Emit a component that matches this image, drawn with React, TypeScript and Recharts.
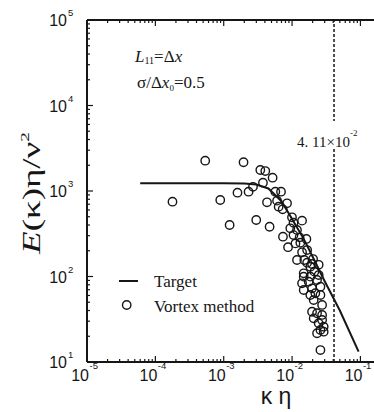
import React from "react";
import { ComposedChart, Line, Scatter, XAxis, YAxis, ReferenceLine } from "recharts";

// Tamaño del lienzo y caja del gráfico (coordenadas de página: el contenedor va fijo en 0,0)
const W = 390;
const H = 412;
const PL = 87;
const PT = 20;
const PB = 362;
const PR = 381;

const INK = "#161616";
const SERIF = "'Liberation Serif', 'Times New Roman', serif";
const SANS = "'Liberation Sans', Arial, sans-serif";

const X_DECADES = [-5, -4, -3, -2, -1];
const Y_DECADES = [1, 2, 3, 4, 5];
const K_CUTOFF = 0.0411;

// Espectro objetivo (meseta y caída ~ -5/3)
const targetK = [6e-5, 1e-3, 2e-3, 3e-3, 4.5e-3, 7e-3, 1e-2, 1.5e-2, 2e-2, 3e-2, 5e-2, 9.4e-2];
const targetE = [1230, 1230, 1225, 1190, 1070, 760, 470, 270, 170, 88, 40, 13.2];

// Método de vórtices
const vortexK = [
  1.78e-4, 5.36e-4, 8.9e-4, 1.22e-3, 1.59e-3, 1.95e-3, 2.31e-3, 2.68e-3, 2.99e-3, 3.43e-3,
  4.06e-3, 5.19e-3, 3.75e-3, 5.69e-3, 6.89e-3, 4.3e-3, 6.03e-3, 6.36e-3, 7.28e-3, 8.44e-3,
  4.69e-3, 9.97e-3, 1.05e-2, 1.4e-2, 9.42e-3, 1.18e-2, 7.36e-3, 1.05e-2, 1.29e-2, 1.62e-2,
  1.12e-2, 1.32e-2, 8.73e-3, 1.66e-2, 1.4e-2, 1.18e-2, 1.51e-2, 2.03e-2, 1.85e-2, 2.45e-2,
  2.12e-2, 1.48e-2, 1.85e-2, 1.66e-2, 1.96e-2, 1.48e-2, 2.45e-2, 1.4e-2, 1.75e-2, 2.32e-2,
  1.48e-2, 1.96e-2, 2.6e-2, 1.85e-2, 2.19e-2, 2.6e-2, 2.07e-2, 2.75e-2, 1.96e-2, 2.32e-2,
  2.75e-2, 2.07e-2, 2.75e-2, 2.45e-2, 2.9e-2, 2.6e-2, 2.9e-2, 2.32e-2, 2.6e-2,
];
const vortexE = [
  750, 2260, 785, 400, 955, 2170, 982, 1120, 458, 1760,
  1710, 1430, 1250, 982, 982, 738, 771, 655, 611, 718,
  382, 492, 425, 450, 366, 350, 292, 305, 287, 275,
  244, 248, 220, 204, 192, 156, 156, 160, 130, 137,
  114, 99.6, 99.6, 145, 140, 109, 104, 83.2, 86.9, 91,
  69.5, 72.8, 76, 60.8, 63.7, 60.8, 53, 46.5, 38.7, 37.2,
  35.5, 32.4, 31, 28.4, 25.9, 23.7, 22.6, 21.7, 13.8,
];

const targetData = targetK.map((k, i) => ({ k, e: targetE[i] }));
const vortexData = vortexK.map((k, i) => ({ k, e: vortexE[i] }));

function logTicks(decades: number[]) {
  const out: number[] = [];
  decades.forEach((d, i) => {
    out.push(Math.pow(10, d));
    if (i < decades.length - 1) {
      for (let m = 2; m <= 9; m++) out.push(m * Math.pow(10, d));
    }
  });
  return out;
}
const xTicks = logTicks(X_DECADES);
const yTicks = logTicks(Y_DECADES);

function isMajor(v: number) {
  const p = Math.log10(v);
  return Math.abs(p - Math.round(p)) < 1e-6;
}

function XTick(props: any) {
  const { x, payload } = props;
  const v = payload.value;
  const major = isMajor(v);
  const len = major ? 6 : 3;
  return (
    <g>
      <line x1={x} x2={x} y1={PB} y2={PB - len} stroke={INK} strokeWidth={1.2} />
      <line x1={x} x2={x} y1={PT} y2={PT + len} stroke={INK} strokeWidth={1.2} />
      {major && (
        <g fontFamily={SANS} fill={INK}>
          <text x={x + 2} y={381} fontSize={16} textAnchor="end">10</text>
          <text x={x + 2.5} y={369} fontSize={9.5}>{Math.round(Math.log10(v))}</text>
        </g>
      )}
    </g>
  );
}

function YTick(props: any) {
  const { y, payload } = props;
  const v = payload.value;
  const major = isMajor(v);
  const len = major ? 6 : 3;
  return (
    <g>
      <line x1={PL} x2={PL + len} y1={y} y2={y} stroke={INK} strokeWidth={1.2} />
      {major && (
        <g fontFamily={SANS} fill={INK}>
          <text x={PL - 20} y={y + 6} fontSize={16} textAnchor="end">10</text>
          <text x={PL - 19} y={y - 4} fontSize={9.5}>{Math.round(Math.log10(v))}</text>
        </g>
      )}
    </g>
  );
}

function VortexDot(props: any) {
  const { cx, cy } = props;
  if (cx == null || cy == null) return null;
  return <circle cx={cx} cy={cy} r={4.2} fill="none" stroke={INK} strokeWidth={1.4} />;
}

export default function App() {
  return (
    <div
      style={{
        position: "fixed",
        top: 0,
        left: 0,
        width: 374,
        height: 412,
        overflow: "hidden",
        background: "#fff",
      }}
    >
      <ComposedChart
        width={W}
        height={H}
        margin={{ top: PT, right: W - PR, bottom: H - PB - 30, left: PL - 60 }}
      >
        <XAxis
          dataKey="k"
          type="number"
          scale="log"
          domain={[1e-5, 0.2]}
          allowDataOverflow
          ticks={xTicks}
          interval={0}
          height={30}
          tick={<XTick />}
          tickLine={false}
          axisLine={{ stroke: INK, strokeWidth: 2 }}
        />
        <YAxis
          dataKey="e"
          type="number"
          scale="log"
          domain={[10, 1e5]}
          allowDataOverflow
          ticks={yTicks}
          interval={0}
          width={60}
          tick={<YTick />}
          tickLine={false}
          axisLine={{ stroke: INK, strokeWidth: 2 }}
        />
        <ReferenceLine y={1e5} stroke={INK} strokeWidth={2} />
        <ReferenceLine x={K_CUTOFF} stroke={INK} strokeWidth={1.5} strokeDasharray="3 2" />
        <Line
          data={targetData}
          dataKey="e"
          type="linear"
          stroke={INK}
          strokeWidth={2}
          dot={false}
          isAnimationActive={false}
        />
        <Scatter data={vortexData} dataKey="e" shape={VortexDot} isAnimationActive={false} />
      </ComposedChart>

      <svg
        width={W}
        height={H}
        style={{ position: "absolute", top: 0, left: 0, pointerEvents: "none" }}
      >
        {/* anotaciones */}
        <g fontFamily={SERIF} fill={INK} fontSize={17}>
          <text x={135} y={62}>
            <tspan fontStyle="italic">L</tspan>
            <tspan fontSize={10} dy={2}>11</tspan>
            <tspan dy={-2}>=Δ</tspan>
            <tspan fontStyle="italic">x</tspan>
          </text>
          <text x={137} y={88}>
            <tspan>σ/Δ</tspan>
            <tspan fontStyle="italic">x</tspan>
            <tspan fontSize={9} dy={3}>0</tspan>
            <tspan dy={-3}>=0.5</tspan>
          </text>
        </g>

        <rect x={330} y={121} width={7} height={27} fill="#fff" />
        <g fontFamily={SERIF} fill={INK}>
          <text x={297} y={147} fontSize={15}>4. 11×10</text>
          <text x={350} y={136} fontSize={9}>-2</text>
        </g>

        {/* leyenda */}
        <line x1={119} x2={138} y1={281} y2={281} stroke={INK} strokeWidth={2} />
        <text x={154} y={287} fontFamily={SERIF} fontSize={17} fill={INK}>Target</text>
        <circle cx={126.7} cy={305} r={4.2} fill="none" stroke={INK} strokeWidth={1.4} />
        <text x={154} y={312} fontFamily={SERIF} fontSize={17} fill={INK}>Vortex method</text>

        {/* títulos de ejes */}
        <text
          transform="translate(40,193) rotate(-90)"
          textAnchor="middle"
          fontFamily={SERIF}
          fontSize={25}
          fill={INK}
          textLength={122}
          lengthAdjust="spacingAndGlyphs"
        >
          <tspan fontStyle="italic">E</tspan>
          <tspan>(κ)η/ν</tspan>
          <tspan fontSize={13} dy={-11}>2</tspan>
        </text>
        <text x={276} y={404} textAnchor="middle" fontFamily={SANS} fontSize={23} fill={INK}>
          κ η
        </text>
      </svg>
    </div>
  );
}
